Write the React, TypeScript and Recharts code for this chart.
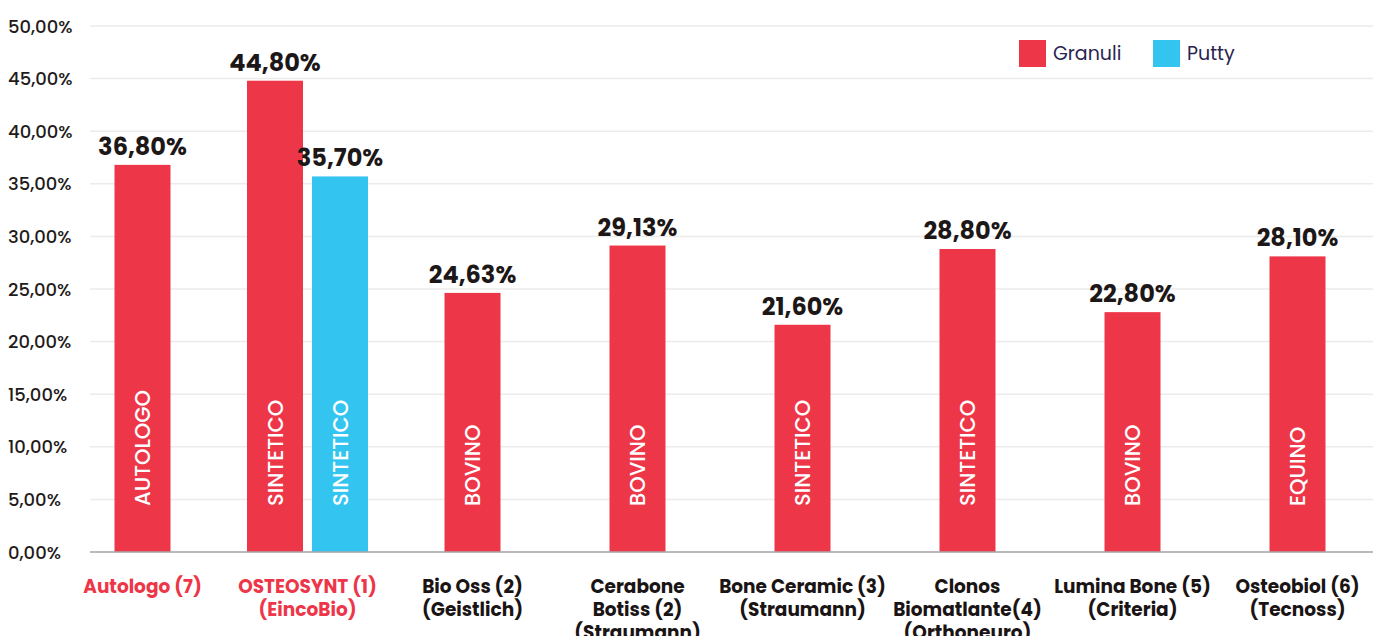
import { Bar, BarChart, CartesianGrid, XAxis, YAxis } from "recharts";

const categories = [
  "Autologo (7)",
  "OSTEOSYNT (1) (EincoBio)",
  "Bio Oss (2) (Geistlich)",
  "Cerabone Botiss (2) (Straumann)",
  "Bone Ceramic (3) (Straumann)",
  "Clonos Biomatlante(4) (Orthoneuro)",
  "Lumina Bone (5) (Criteria)",
  "Osteobiol (6) (Tecnoss)",
];

const categoryLines = [
  ["Autologo (7)"],
  ["OSTEOSYNT (1)", "(EincoBio)"],
  ["Bio Oss (2)", "(Geistlich)"],
  ["Cerabone", "Botiss (2)", "(Straumann)"],
  ["Bone Ceramic (3)", "(Straumann)"],
  ["Clonos", "Biomatlante(4)", "(Orthoneuro)"],
  ["Lumina Bone (5)", "(Criteria)"],
  ["Osteobiol (6)", "(Tecnoss)"],
];

const highlighted = ["Autologo (7)", "OSTEOSYNT (1) (EincoBio)"];

const granuli = [36.8, 44.8, 24.63, 29.13, 21.6, 28.8, 22.8, 28.1];
const putty = [null, 35.7, null, null, null, null, null, null];

const granuliType = ["AUTOLOGO", "SINTETICO", "BOVINO", "BOVINO", "SINTETICO", "SINTETICO", "BOVINO", "EQUINO"];
const puttyType = [null, "SINTETICO", null, null, null, null, null, null];

const yTicks = [0, 5, 10, 15, 20, 25, 30, 35, 40, 45, 50];

const RED = "#EE3649";
const CYAN = "#33C5F0";
const FONT = "Poppins, Inter, sans-serif";
const BAR_SIZE = 56;
const BAR_GAP = 9;

const data = categories.map((name, i) => ({
  name,
  granuli: granuli[i],
  putty: putty[i],
  granuliType: granuliType[i],
  puttyType: puttyType[i],
}));

const pct = (v: number) => `${v.toFixed(2).replace(".", ",")}%`;

const makeShape = (key: "granuli" | "putty", typeKey: "granuliType" | "puttyType", color: string) =>
  (props: any) => {
    const { x, y, width, height, payload } = props;
    if (payload == null || payload[key] == null) return <g />;
    // single-bar groups get centred in their band
    const shift = payload.putty == null ? (BAR_SIZE + BAR_GAP) / 2 : 0;
    const left = x + shift;
    const cx = left + width / 2;
    const bottom = y + height;
    return (
      <g>
        <rect x={left} y={y} width={width} height={height} fill={color} />
        <text
          x={cx}
          y={y - 10}
          textAnchor="middle"
          fontFamily={FONT}
          fontWeight={700}
          fontSize={24}
          fill="#1d1717"
        >
          {pct(payload[key])}
        </text>
        <text
          x={cx}
          y={bottom - 46}
          transform={`rotate(-90 ${cx} ${bottom - 46})`}
          textAnchor="start"
          dominantBaseline="central"
          fontFamily={FONT}
          fontWeight={500}
          fontSize={21}
          fill="#ffffff"
        >
          {payload[typeKey]}
        </text>
      </g>
    );
  };

const XTick = (props: any) => {
  const { x, y, payload, index } = props;
  const lines = categoryLines[index] ?? [payload.value];
  const color = highlighted.includes(payload.value) ? RED : "#1a1414";
  return (
    <text
      x={x}
      y={y + 34}
      textAnchor="middle"
      dominantBaseline="central"
      fontFamily={FONT}
      fontWeight={700}
      fontSize={18.5}
      fill={color}
    >
      {lines.map((l: string, i: number) => (
        <tspan key={i} x={x} dy={i === 0 ? 0 : 23}>
          {l}
        </tspan>
      ))}
    </text>
  );
};

// y labels are left-aligned at the chart's edge
const YTick = (props: any) => {
  const { y, payload } = props;
  return (
    <text
      x={8}
      y={y}
      textAnchor="start"
      dominantBaseline="central"
      fontFamily={FONT}
      fontWeight={500}
      fontSize={18}
      fill="#231a1a"
    >
      {pct(payload.value)}
    </text>
  );
};

const legendItems = [
  { label: "Granuli", color: RED, width: 134 },
  { label: "Putty", color: CYAN, width: 100 },
];

export default function App() {
  return (
    <div style={{ width: 1379, height: 636, position: "relative", background: "#fff" }}>
      <style>{"body{margin:0}"}</style>
      <BarChart
        width={1379}
        height={636}
        data={data}
        margin={{ top: 26, right: 6, left: 0, bottom: 0 }}
        barSize={BAR_SIZE}
        barGap={BAR_GAP}
      >
        <CartesianGrid vertical={false} stroke="#ebebeb" strokeWidth={1.5} />
        <XAxis
          dataKey="name"
          height={84}
          padding={{ left: -30, right: -7 }}
          axisLine={{ stroke: "#a8a8a8", strokeWidth: 1.5 }}
          tickLine={false}
          tickSize={0}
          tickMargin={0}
          interval={0}
          tick={<XTick />}
        />
        <YAxis
          width={90}
          domain={[0, 50]}
          ticks={yTicks}
          axisLine={false}
          tickLine={false}
          tick={<YTick />}
        />
        <Bar
          dataKey="granuli"
          name="Granuli"
          fill={RED}
          isAnimationActive={false}
          shape={makeShape("granuli", "granuliType", RED)}
        />
        <Bar
          dataKey="putty"
          name="Putty"
          fill={CYAN}
          isAnimationActive={false}
          shape={makeShape("putty", "puttyType", CYAN)}
        />
      </BarChart>
      <div
        style={{
          position: "absolute",
          top: 39,
          left: 1019,
          display: "flex",
          fontFamily: FONT,
          fontSize: 19,
          color: "#2a2450",
        }}
      >
        {legendItems.map((it) => (
          <div key={it.label} style={{ display: "flex", alignItems: "center", width: it.width }}>
            <span style={{ width: 27, height: 27, background: it.color, display: "inline-block", marginRight: 7 }} />
            <span>{it.label}</span>
          </div>
        ))}
      </div>
    </div>
  );
}
